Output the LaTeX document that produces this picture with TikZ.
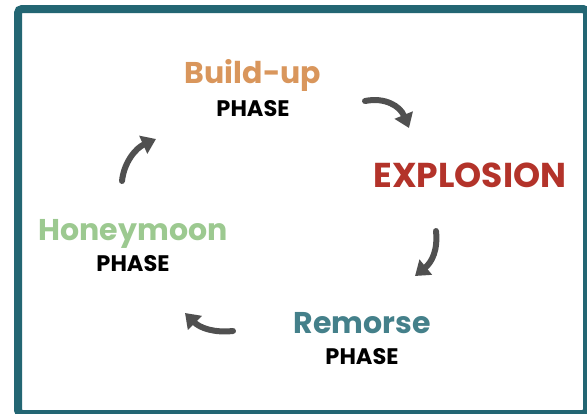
\documentclass[tikz,border=0pt]{standalone}
\usepackage{fontspec}
\setmainfont{Poppins}
\usetikzlibrary{arrows.meta}
\definecolor{framec}{HTML}{236673}
\definecolor{buildc}{HTML}{D9965C}
\definecolor{explc}{HTML}{B3332A}
\definecolor{honeyc}{HTML}{9CC990}
\definecolor{remc}{HTML}{44808A}
\definecolor{arrc}{HTML}{505050}
\tikzset{
  title/.style={font=\fontsize{30}{30}\selectfont\bfseries, anchor=base, inner sep=0pt},
  phase/.style={font=\fontsize{22.5}{22.5}\selectfont\bfseries, anchor=base, inner sep=0pt, text=black},
  cyc/.style={draw=arrc, line width=6pt, line cap=round, -{Triangle[length=14pt,width=19pt]}}
}
\begin{document}
\begin{tikzpicture}[x=1pt,y=-1pt]
\useasboundingbox (0,0) rectangle (587,413);
\clip (0,0) rectangle (587,413);
\fill[white] (0,0) rectangle (587,413);
\draw[framec, line width=8pt, rounded corners=4pt] (18,9) rectangle (587,414);
\node[title, text=buildc] (build) at (253,83) {Build-up};
\node[phase] (buildp) at (253,116) {PHASE};
\node[title, text=explc, font=\fontsize{34.5}{34.5}\selectfont\bfseries] (expl) at (470,187) {EXPLOSION};
\node[title, text=remc] (rem) at (362,333) {Remorse};
\node[phase] (remp) at (362,364) {PHASE};
\node[title, text=honeyc] (honey) at (133,240) {Honeymoon};
\node[phase] (honeyp) at (133,271) {PHASE};
\coordinate (a1s) at (365,101);
\coordinate (a1e) at (409,128);
\coordinate (a2s) at (436,231);
\coordinate (a2e) at (415,276);
\coordinate (a3s) at (233,331);
\coordinate (a3e) at (185,313);
\coordinate (a4s) at (122,181);
\coordinate (a4e) at (156,139);
\draw[cyc] (a1s) .. controls (385,97) and (400,106) .. (a1e);
\draw[cyc] (a2s) .. controls (438,250) and (432,262) .. (a2e);
\draw[cyc] (a3s) .. controls (214,333) and (200,328) .. (a3e);
\draw[cyc] (a4s) .. controls (124,162) and (136,148) .. (a4e);
\end{tikzpicture}
\end{document}
